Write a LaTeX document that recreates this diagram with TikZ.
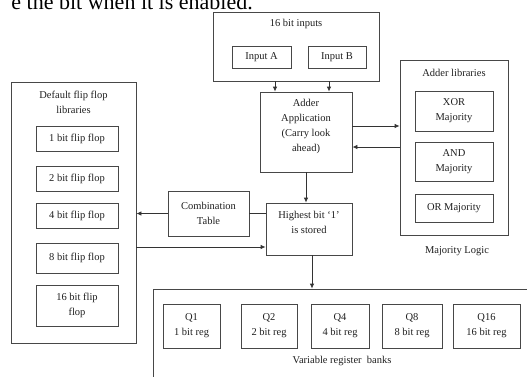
\documentclass[tikz,border=0pt]{standalone}
\usepackage{fontspec}
\setmainfont{Liberation Serif}
\usetikzlibrary{arrows.meta}
\begin{document}
\begin{tikzpicture}[x=1pt,y=-1pt,
  box/.style={draw=black!72,line width=0.8pt,inner sep=0pt,align=center,text=black!88},
  txt/.style={inner sep=0pt,align=center,text=black!88},
  conn/.style={draw=black!80,line width=0.8pt},
  arr/.style={conn,-{Latex[length=5pt,width=4.5pt]}},
  every node/.append style={font=\fontsize{10.5}{15}\selectfont}]
\useasboundingbox (0,0) rectangle (527,376);
\clip (0,0) rectangle (527,376);
% cut-off line of text above the figure
\node[txt,anchor=base east,font=\fontsize{22}{24}\selectfont,text=black] (toptext) at (253,9) {e the bit when it is enabled.};
% 16 bit inputs
\node[box,minimum width=166,minimum height=69] (inp) at (296,46.5) {};
\node[txt] (inpT) at (296,24) {16 bit inputs};
\node[box,minimum width=59,minimum height=22] (inA) at (261.5,57) {Input A};
\node[box,minimum width=58,minimum height=22] (inB) at (337,57) {Input B};
% adder
\node[box,minimum width=92,minimum height=80] (adder) at (306,132) {};
\node[txt] (adderT) at (306,126.5) {Adder\\Application\\(Carry look\\ahead)};
% adder libraries
\node[box,minimum width=108,minimum height=175] (addlib) at (454,147.5) {};
\node[txt] (addlibT) at (454,73) {Adder libraries};
\node[box,minimum width=78,minimum height=40] (xor) at (454,111) {XOR\\Majority};
\node[box,minimum width=78,minimum height=39] (and) at (454,161.5) {AND\\Majority};
\node[box,minimum width=78,minimum height=28] (or) at (454,208) {OR Majority};
\node[txt] (majT) at (457,251) {Majority Logic};
% combination table and highest bit
\node[box,minimum width=81,minimum height=45] (comb) at (208.5,213.5) {Combination\\Table};
\node[box,minimum width=86,minimum height=52] (high) at (309,229) {};
\node[txt] (highT) at (309,222.5) {Highest bit ‘1’\\is stored};
% flip flop libraries
\node[box,minimum width=125,minimum height=261] (ff) at (73.5,212.5) {};
\node[txt] (ffT) at (73.5,102.5) {Default flip flop\\libraries};
\node[box,minimum width=82,minimum height=25] (ff1) at (77,138.5) {1 bit flip flop};
\node[box,minimum width=82,minimum height=25] (ff2) at (77,178.5) {2 bit flip flop};
\node[box,minimum width=82,minimum height=25] (ff4) at (77,215.5) {4 bit flip flop};
\node[box,minimum width=82,minimum height=30] (ff8) at (77,258) {8 bit flip flop};
\node[box,minimum width=82,minimum height=41] (ff16) at (77,305.5) {16 bit flip\\flop};
% register banks
\node[box,minimum width=387,minimum height=101] (reg) at (346.5,339.5) {};
\node[box,minimum width=57,minimum height=44] (q1) at (191.5,326) {Q1\\1 bit reg};
\node[box,minimum width=56,minimum height=44] (q2) at (269,326) {Q2\\2 bit reg};
\node[box,minimum width=58,minimum height=44] (q4) at (340,326) {Q4\\4 bit reg};
\node[box,minimum width=60,minimum height=44] (q8) at (412,326) {Q8\\8 bit reg};
\node[box,minimum width=67,minimum height=44] (q16) at (486.5,326) {Q16\\16 bit reg};
\node[txt] (regT) at (342,361) {Variable register\ \ banks};
% connectors
\coordinate (a1) at ([xshift=-21]inp.south);
\coordinate (a2) at ([xshift=33]inp.south);
\draw[arr] (a1) -- (a1 |- adder.north);
\draw[arr] (a2) -- (a2 |- adder.north);
\coordinate (r1) at ([yshift=6]adder.east);
\coordinate (r2) at ([yshift=-15]adder.east);
\draw[arr] (r1) -- (r1 -| addlib.west);
\draw[arr] (r2 -| addlib.west) -- (r2);
\draw[arr] (adder.south) -- (adder.south |- high.north);
\draw[conn] (comb.east) -- (comb.east -| high.west);
\draw[arr] (comb.west) -- (comb.west -| ff.east);
\coordinate (h1) at ([yshift=-18]high.west);
\draw[arr] (h1 -| ff.east) -- (h1);
\coordinate (h2) at ([xshift=3]high.south);
\draw[arr] (h2) -- (h2 |- reg.north);
\end{tikzpicture}
\end{document}
